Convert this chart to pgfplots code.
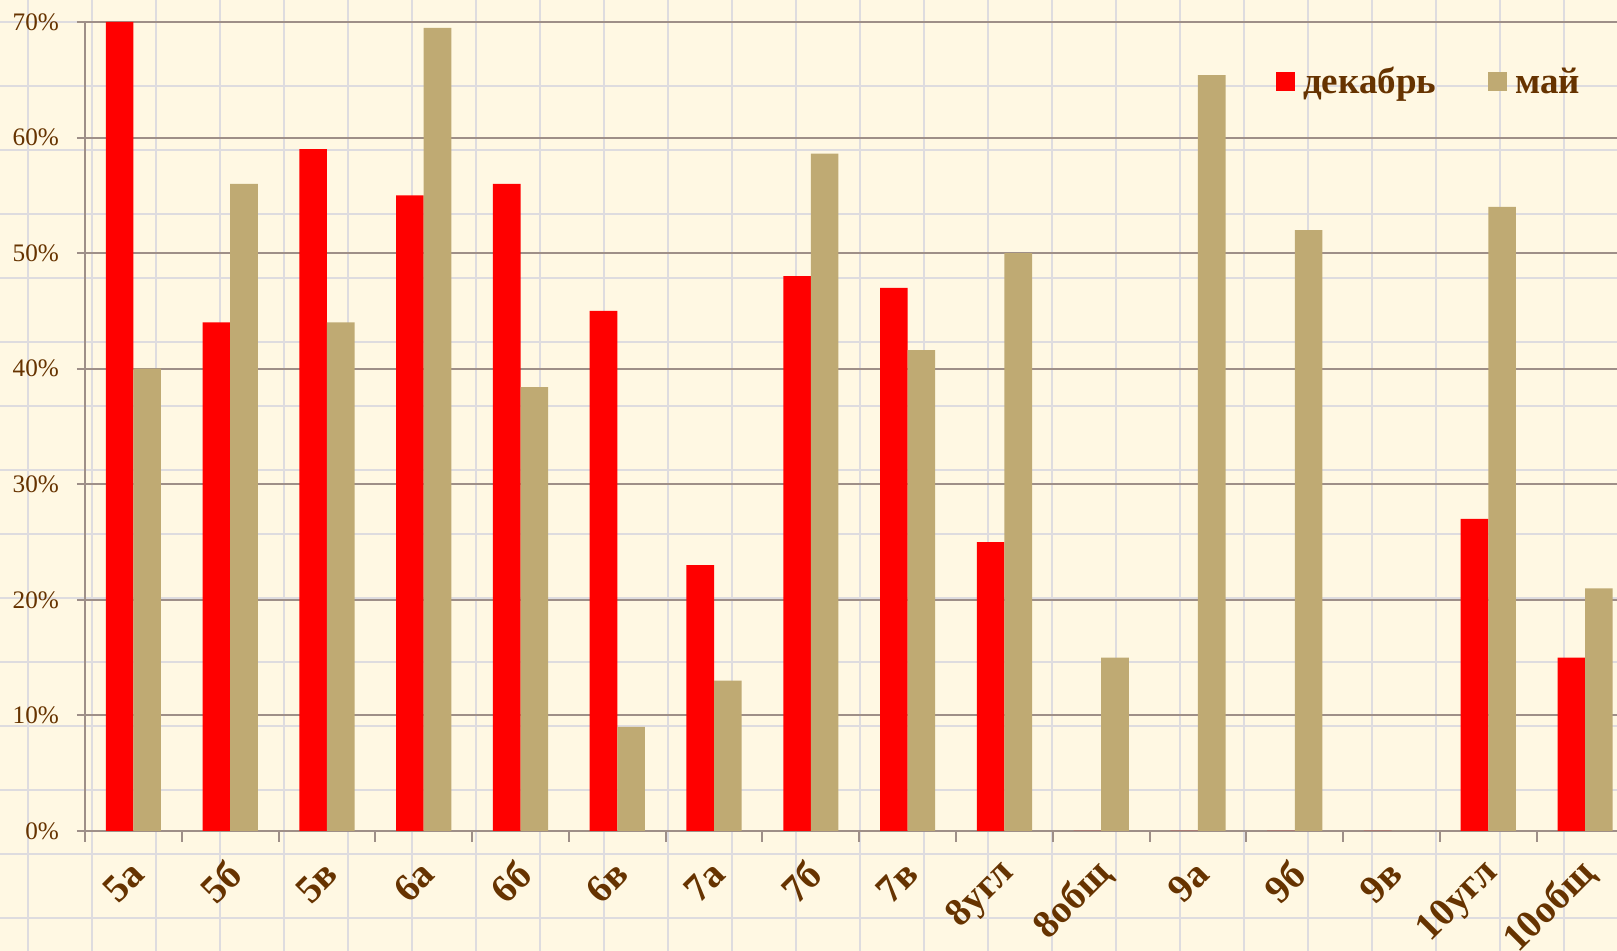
\documentclass[border=0pt]{standalone}
\usepackage{fontspec}
\setmainfont{Liberation Serif}
\usepackage{pgfplots}
\pgfplotsset{compat=1.18}
\definecolor{fon}{HTML}{FFF8E3}
\definecolor{kletka}{HTML}{DEDCDF}
\definecolor{osi}{HTML}{9E8F88}
\definecolor{korich}{HTML}{663300}
\definecolor{dek}{HTML}{FF0000}
\definecolor{mai}{HTML}{BFAA73}

\begin{document}
\begin{tikzpicture}
\clip (0,0) rectangle (808.5pt,475.5pt);
\fill[fon] (0,0) rectangle (808.5pt,475.5pt);
% бумага в клетку
\begin{scope}[xshift=14pt,yshift=16.5pt]
  \draw[kletka, line width=1pt, step=32pt] (-32pt,-32pt) grid (800pt,480pt);
\end{scope}
\begin{axis}[
    at={(42.5pt,60pt)}, anchor=south west,
    scale only axis, width=774.25pt, height=404.5pt,
    ybar=0pt, bar width=13.8pt,
    xmin=-0.5, xmax=15.5, ymin=0, ymax=70,
    axis x line*=bottom, axis y line*=left,
    axis line style={osi, line width=1pt, -},
    xtick={0,...,15},
    xticklabels={5а,5б,5в,6а,6б,6в,7а,7б,7в,8угл,8общ,9а,9б,9в,10угл,10общ},
    minor xtick={-0.5,0.5,...,15.5},
    ytick={0,10,...,70},
    yticklabels={0\%,10\%,20\%,30\%,40\%,50\%,60\%,70\%},
    tick align=outside,
    major tick length=4pt, minor tick length=5.5pt,
    major x tick style={draw=none},
    minor x tick style={osi, line width=1pt},
    major y tick style={osi, line width=1pt},
    ymajorgrids, major grid style={osi, line width=1pt},
    yticklabel style={font=\fontsize{12.6}{14}\selectfont, text=korich, xshift=-5.5pt},
    xticklabel style={font=\fontsize{19.5}{21}\selectfont\bfseries, text=korich,
      xshift=4.5pt, yshift=-12pt, rotate=45, anchor=east},
    legend columns=2,
    legend style={at={(axis description cs:0.769,0.926)}, anchor=west,
      draw=none, fill=none, inner sep=0pt,
      font=\fontsize{18.5}{20}\selectfont\bfseries, text=korich,
      nodes={inner xsep=4pt, inner ysep=0pt},
      /tikz/every even column/.append style={column sep=22pt}},
    legend image code/.code={\fill[#1] (0pt,-4.75pt) rectangle (9.5pt,4.75pt);},
  ]
  \addplot[fill=dek, draw=none] coordinates {
    (0,70) (1,44) (2,59) (3,55) (4,56) (5,45) (6,23) (7,48)
    (8,47) (9,25) (10,0) (11,0) (12,0) (13,0) (14,27) (15,15)};
  \addplot[fill=mai, draw=none] coordinates {
    (0,40) (1,56) (2,44) (3,69.5) (4,38.4) (5,9) (6,13) (7,58.6)
    (8,41.6) (9,50) (10,15) (11,65.4) (12,52) (13,0) (14,54) (15,21)};
  \legend{декабрь,май}
\end{axis}
\end{tikzpicture}
\end{document}
